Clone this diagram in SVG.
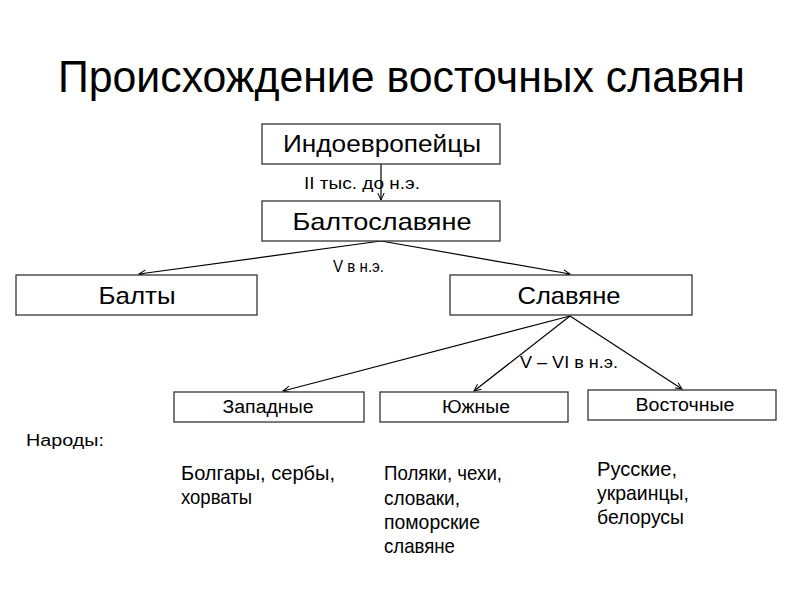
<svg xmlns="http://www.w3.org/2000/svg" width="800" height="600" viewBox="0 0 800 600">
<defs>
<marker id="ah" markerWidth="8" markerHeight="8" refX="7" refY="4" orient="auto" markerUnits="userSpaceOnUse">
<path d="M0,0.8 L7,4 L0,7.2" fill="none" stroke="#000" stroke-width="1"/>
</marker>
<style>
.box{fill:#fff;stroke:#333;stroke-width:1.3}
.t{font-family:"Liberation Sans",Arial,sans-serif;fill:#000}
.big{font-size:24px;text-anchor:middle}
.sm{font-size:18px;text-anchor:middle}
.lab{font-size:16px}
.body{font-size:21px}
.c{fill:none;stroke:#000;stroke-width:1.2;marker-end:url(#ah)}
</style>
</defs>
<rect width="800" height="600" fill="#fff"/>
<text class="t" x="58" y="92" font-size="44" textLength="687" lengthAdjust="spacingAndGlyphs">Происхождение восточных славян</text>
<g id="connectors">
<line class="c" x1="381" y1="147" x2="381" y2="200"/>
<line class="c" x1="381" y1="241" x2="139" y2="274"/>
<line class="c" x1="381" y1="241" x2="570" y2="274"/>
<line class="c" x1="570" y1="316" x2="283" y2="391"/>
<line class="c" x1="570" y1="316" x2="474" y2="391"/>
<line class="c" x1="570" y1="316" x2="682" y2="389"/>
</g>
<g id="n1"><rect class="box" x="262" y="124" width="238" height="40"/><text class="t big" x="382" y="152" textLength="198" lengthAdjust="spacingAndGlyphs">Индоевропейцы</text></g>
<g id="n2"><rect class="box" x="262" y="201" width="238" height="40"/><text class="t big" x="382" y="230" textLength="179" lengthAdjust="spacingAndGlyphs">Балтославяне</text></g>
<g id="n3"><rect class="box" x="16" y="275" width="241" height="40"/><text class="t big" x="137" y="304" textLength="77" lengthAdjust="spacingAndGlyphs">Балты</text></g>
<g id="n4"><rect class="box" x="450" y="275" width="242" height="40"/><text class="t big" x="569" y="304" textLength="103" lengthAdjust="spacingAndGlyphs">Славяне</text></g>
<g id="n5"><rect class="box" x="174" y="392" width="190" height="30"/><text class="t sm" x="268" y="413" textLength="91" lengthAdjust="spacingAndGlyphs">Западные</text></g>
<g id="n6"><rect class="box" x="380" y="392" width="188" height="30"/><text class="t sm" x="476" y="413" textLength="68" lengthAdjust="spacingAndGlyphs">Южные</text></g>
<g id="n7"><rect class="box" x="588" y="390" width="188" height="30"/><text class="t sm" x="685" y="411" textLength="99" lengthAdjust="spacingAndGlyphs">Восточные</text></g>
<text class="t lab" x="304" y="189" textLength="116" lengthAdjust="spacingAndGlyphs">II тыс. до н.э.</text>
<text class="t lab" x="333" y="272" textLength="51" lengthAdjust="spacingAndGlyphs">V в н.э.</text>
<text class="t lab" x="520" y="368" textLength="98" lengthAdjust="spacingAndGlyphs">V – VI в н.э.</text>
<text class="t lab" x="26" y="446" textLength="78" lengthAdjust="spacingAndGlyphs">Народы:</text>
<text class="t body" x="181" y="480" textLength="154" lengthAdjust="spacingAndGlyphs">Болгары, сербы,</text>
<text class="t body" x="181" y="504" textLength="71" lengthAdjust="spacingAndGlyphs">хорваты</text>
<text class="t body" x="384" y="480" textLength="118" lengthAdjust="spacingAndGlyphs">Поляки, чехи,</text>
<text class="t body" x="384" y="505" textLength="76" lengthAdjust="spacingAndGlyphs">словаки,</text>
<text class="t body" x="384" y="529" textLength="96" lengthAdjust="spacingAndGlyphs">поморские</text>
<text class="t body" x="384" y="553" textLength="71" lengthAdjust="spacingAndGlyphs">славяне</text>
<text class="t body" x="597" y="476" textLength="80" lengthAdjust="spacingAndGlyphs">Русские,</text>
<text class="t body" x="597" y="500" textLength="92" lengthAdjust="spacingAndGlyphs">украинцы,</text>
<text class="t body" x="597" y="524" textLength="87" lengthAdjust="spacingAndGlyphs">белорусы</text>
</svg>
